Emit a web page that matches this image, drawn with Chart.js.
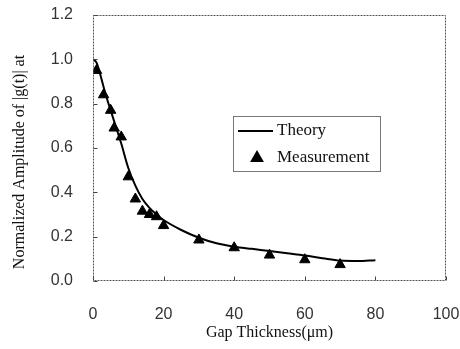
<!DOCTYPE html>
<html>
<head>
<meta charset="utf-8">
<script src="https://cdn.jsdelivr.net/npm/chart.js@4.4.1/dist/chart.umd.min.js"></script>
<style>
  html, body { margin: 0; padding: 0; background: #fff; }
  #wrap { width: 460px; height: 349px; position: relative; }
</style>
</head>
<body>
<div id="wrap"><canvas id="gapChart"></canvas></div>
<script>
// theory curve
const theoryX = [0, 1, 2, 3, 4, 5, 6, 8, 10, 12, 14, 16, 18, 20, 25, 30, 35, 40, 45, 50, 55, 60, 65, 70, 75, 80];
const theoryY = [1.0, 0.985, 0.935, 0.875, 0.82, 0.77, 0.72, 0.62, 0.51, 0.43, 0.37, 0.33, 0.30, 0.275, 0.23, 0.195, 0.17, 0.155, 0.145, 0.135, 0.125, 0.115, 0.103, 0.092, 0.09, 0.094];

// measured points
const measX = [1, 3, 5, 6, 8, 10, 12, 14, 16, 18, 20, 30, 40, 50, 60, 70];
const measY = [0.95, 0.84, 0.77, 0.69, 0.65, 0.47, 0.37, 0.315, 0.30, 0.29, 0.25, 0.185, 0.15, 0.117, 0.096, 0.074];

const xTicks = [0, 20, 40, 60, 80, 100];
const yTicks = [0.0, 0.2, 0.4, 0.6, 0.8, 1.0, 1.2];

const yTitle = 'Normalized Amplitude of |g(t)| at';
const xTitle = 'Gap Thickness(\u03bcm)';

const serif = "'Liberation Serif', 'Times New Roman', serif";
const sans = "'Liberation Sans', Arial, sans-serif";

// frame, inward ticks, y title and legend box
const framePlugin = {
  id: 'frame',
  afterDraw(chart) {
    const c = chart.ctx;
    const xs = chart.scales.x, ys = chart.scales.y;
    const l = Math.round(xs.getPixelForValue(0)) + 0.5;
    const r = Math.round(xs.getPixelForValue(100)) - 0.5;
    const t = Math.round(ys.getPixelForValue(1.2)) + 0.5;
    const b = Math.round(ys.getPixelForValue(0)) - 0.5;
    c.save();
    c.strokeStyle = '#555';
    c.lineWidth = 1;
    c.setLineDash([2, 1]);
    c.strokeRect(l, t, r - l, b - t);
    c.setLineDash([]);
    c.strokeStyle = '#444';
    c.beginPath();
    yTicks.forEach(v => {
      const py = Math.round(ys.getPixelForValue(v)) + 0.5;
      c.moveTo(l, py); c.lineTo(l + 4, py);
    });
    xTicks.forEach(v => {
      const px = Math.round(xs.getPixelForValue(v)) + 0.5;
      c.moveTo(px, b); c.lineTo(px, b - 4);
    });
    c.stroke();

    // y title
    c.fillStyle = '#111';
    c.font = '16px ' + serif;
    c.textAlign = 'center';
    c.textBaseline = 'middle';
    c.translate(20, 162);
    c.rotate(-Math.PI / 2);
    c.fillText(yTitle, 0, 0);
    c.restore();

    // legend
    c.save();
    const lx = 233, ly = 116, lw = 147, lh = 55;
    c.fillStyle = '#fff';
    c.fillRect(lx, ly, lw, lh);
    c.strokeStyle = '#777';
    c.lineWidth = 1;
    c.strokeRect(lx + 0.5, ly + 0.5, lw, lh);
    const ds = chart.data.datasets;
    c.font = '17px ' + serif;
    c.textBaseline = 'middle';
    c.textAlign = 'left';
    c.fillStyle = '#111';
    // theory entry
    c.strokeStyle = '#000';
    c.lineWidth = 2;
    c.beginPath();
    c.moveTo(238, 131); c.lineTo(273, 131);
    c.stroke();
    c.fillText(ds[0].label, 277, 131);
    // measurement entry
    Chart.helpers.drawPoint(c, { pointStyle: 'triangle', radius: 6, borderWidth: 1 }, 257, 158);
    c.fillStyle = '#000';
    c.fill();
    c.fillStyle = '#111';
    c.fillText(ds[1].label, 277, 158);
    c.restore();
  }
};

new Chart(document.getElementById('gapChart'), {
  type: 'scatter',
  data: {
    datasets: [{
      label: 'Theory',
      type: 'line',
      data: theoryX.map((x, i) => ({ x: x, y: theoryY[i] })),
      borderColor: '#000',
      borderWidth: 2,
      pointRadius: 0,
      fill: false,
      cubicInterpolationMode: 'monotone',
      order: 2
    }, {
      label: 'Measurement',
      data: measX.map((x, i) => ({ x: x, y: measY[i] })),
      pointStyle: 'triangle',
      pointRadius: 6,
      backgroundColor: '#000',
      borderColor: '#000',
      borderWidth: 1,
      order: 1
    }]
  },
  options: {
    responsive: true,
    maintainAspectRatio: false,
    animation: false,
    layout: { padding: { top: 15, right: 14, bottom: 0, left: 0 } },
    plugins: {
      legend: { display: false },
      tooltip: { enabled: false }
    },
    scales: {
      x: {
        type: 'linear',
        min: 0, max: 100,
        afterBuildTicks: s => { s.ticks = xTicks.map(v => ({ value: v })); },
        afterFit: s => { s.height = 68; s.paddingLeft = 0; s.paddingRight = 0; },
        grid: { display: false, drawTicks: false },
        border: { display: false },
        ticks: {
          padding: 24,
          maxRotation: 0,
          color: '#333',
          font: { family: sans, size: 16 }
        },
        title: {
          display: true,
          text: xTitle,
          color: '#111',
          padding: { top: 0, bottom: 7 },
          font: { family: serif, size: 16 }
        }
      },
      y: {
        type: 'linear',
        min: 0, max: 1.2,
        afterBuildTicks: s => { s.ticks = yTicks.map(v => ({ value: v })); },
        afterFit: s => { s.width = 93; s.paddingTop = 0; s.paddingBottom = 0; },
        grid: { display: false, drawTicks: false },
        border: { display: false },
        ticks: {
          padding: 20,
          color: '#333',
          font: { family: sans, size: 16 },
          callback: v => v.toFixed(1)
        }
      }
    }
  },
  plugins: [framePlugin]
});
</script>
</body>
</html>
